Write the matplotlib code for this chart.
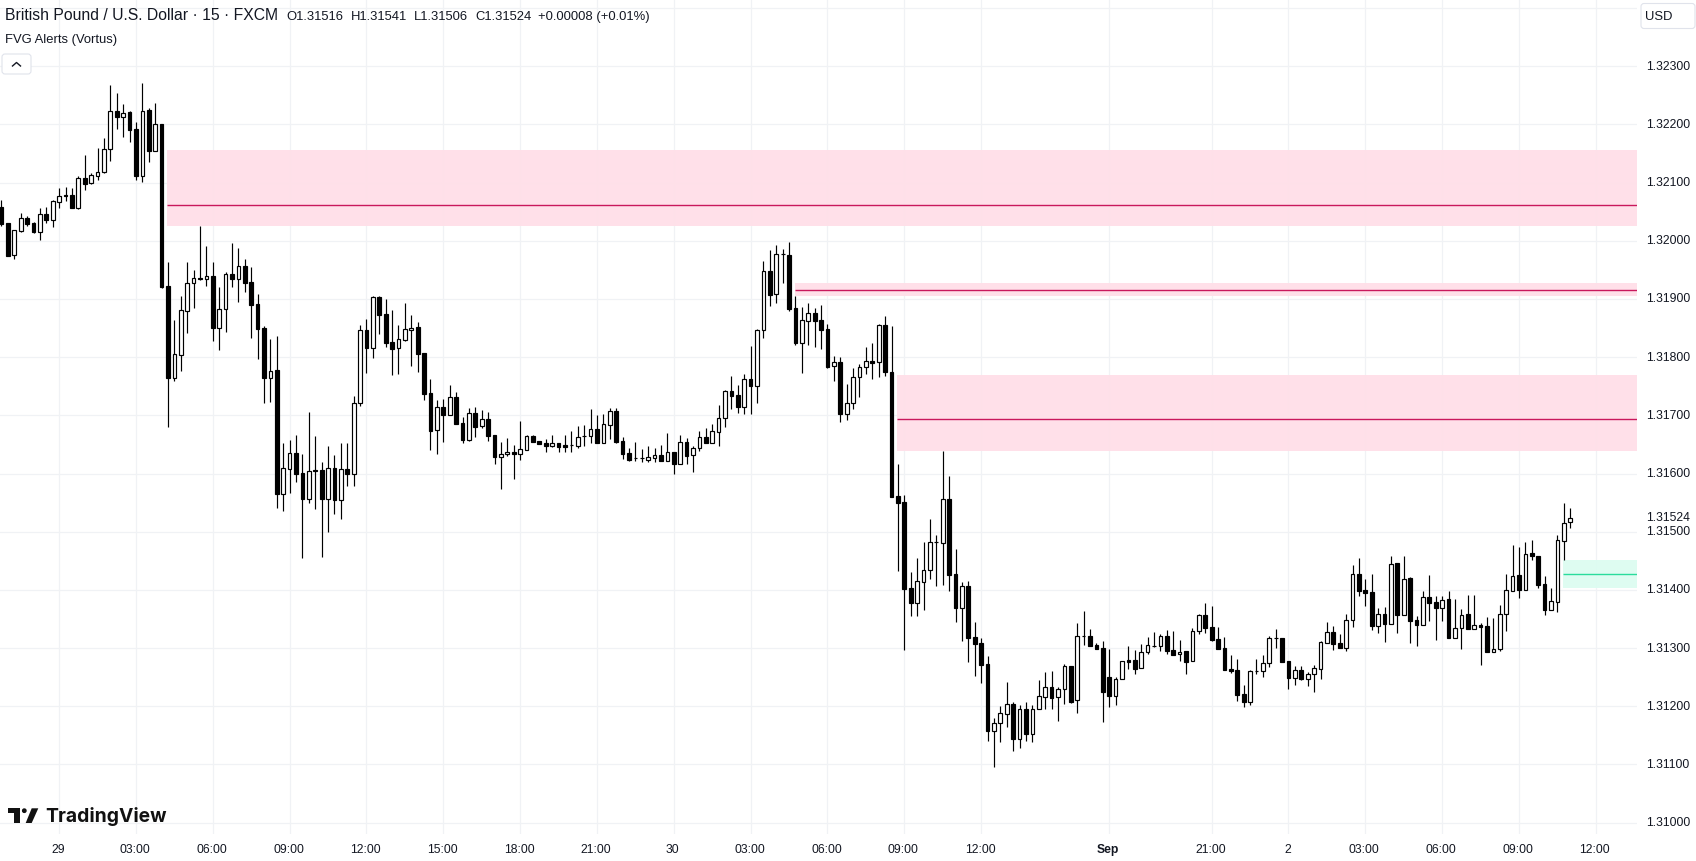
#!/usr/bin/env python
# GBP/USD 15 minute candles with FVG zones, TradingView look

import matplotlib.pyplot as plt
from matplotlib.patches import FancyBboxPatch, Polygon, Circle
from matplotlib.transforms import ScaledTranslation
import numpy as np

plt.rcParams['font.family'] = ['Liberation Sans', 'DejaVu Sans']

# prices are given in 0.00001 above this base
BASE = 1.31

opens = [
    1059, 1031, 975, 1017, 1039, 1030, 1016, 1046, 1035, 1067,
    1078, 1079, 1056, 1108, 1099, 1112, 1118, 1157, 1223, 1213,
    1222, 1192, 1112, 1225, 1155, 1201, 922, 765, 804, 880,
    927, 936, 935, 940, 851, 882, 943, 935, 956, 929,
    891, 850, 765, 778, 564, 608, 636, 601, 557, 606,
    606, 557, 609, 555, 607, 600, 722, 847, 816, 903,
    874, 826, 815, 830, 847, 852, 807, 739, 674, 714,
    701, 732, 687, 658, 704, 681, 694, 666, 629, 633,
    637, 633, 641, 665, 656, 652, 648, 652, 649, 649,
    648, 664, 664, 676, 653, 684, 708, 656, 636, 626,
    626, 624, 627, 632, 622, 637, 617, 654, 631, 643,
    663, 653, 672, 695, 742, 735, 715, 763, 751, 846,
    948, 908, 977, 976, 885, 825, 863, 876, 864, 849,
    784, 792, 703, 721, 766, 783, 794, 792, 856, 774,
    561, 551, 403, 378, 414, 434, 482, 481, 556, 427,
    369, 407, 319, 309, 273, 158, 171, 187, 204, 144,
    195, 153, 196, 216, 233, 215, 229, 269, 210, 320,
    321, 305, 300, 250, 218, 246, 279, 279, 265, 294,
    304, 304, 321, 297, 289, 295, 277, 329, 357, 336,
    316, 300, 264, 262, 221, 208, 261, 261, 275, 317,
    317, 277, 249, 263, 247, 255, 264, 309, 328, 308,
    300, 348, 428, 399, 396, 338, 359, 342, 446, 357,
    420, 348, 340, 387, 379, 369, 384, 317, 335, 358,
    333, 340, 338, 293, 299, 359, 398, 425, 400, 463,
    459, 410, 366, 379, 484, 516,
]
highs = [
    1070, 1031, 1018, 1047, 1042, 1032, 1056, 1058, 1070, 1090,
    1093, 1091, 1111, 1148, 1117, 1160, 1177, 1268, 1254, 1235,
    1223, 1204, 1271, 1229, 1237, 1201, 964, 864, 905, 964,
    949, 1026, 991, 964, 921, 946, 997, 988, 968, 955,
    909, 854, 831, 836, 652, 658, 666, 634, 706, 664,
    620, 647, 632, 652, 652, 733, 855, 866, 905, 905,
    900, 881, 855, 893, 872, 860, 807, 763, 726, 728,
    752, 740, 697, 713, 714, 709, 706, 666, 654, 661,
    649, 690, 666, 666, 656, 660, 666, 652, 666, 673,
    682, 684, 711, 701, 702, 713, 713, 663, 644, 654,
    642, 648, 644, 649, 670, 637, 666, 661, 648, 673,
    678, 685, 718, 743, 768, 752, 771, 819, 849, 966,
    984, 993, 986, 998, 905, 886, 893, 885, 890, 857,
    802, 801, 754, 782, 789, 818, 825, 857, 871, 854,
    616, 563, 431, 455, 482, 522, 494, 639, 596, 470,
    414, 415, 345, 317, 286, 180, 200, 242, 207, 202,
    207, 202, 245, 259, 260, 233, 273, 269, 343, 364,
    333, 309, 312, 298, 250, 277, 304, 297, 307, 319,
    328, 324, 331, 329, 314, 295, 335, 359, 378, 372,
    336, 319, 288, 281, 237, 262, 281, 288, 321, 332,
    318, 277, 269, 269, 259, 271, 312, 344, 338, 324,
    358, 442, 454, 418, 428, 368, 370, 459, 447, 458,
    422, 355, 398, 425, 389, 389, 398, 384, 367, 391,
    391, 343, 353, 351, 374, 427, 477, 473, 482, 485,
    459, 423, 403, 494, 549, 541,
]
lows = [
    1026, 974, 968, 1016, 1025, 1014, 1001, 1030, 1024, 1056,
    1068, 1056, 1055, 1087, 1097, 1105, 1117, 1137, 1192, 1178,
    1170, 1105, 1101, 1135, 1155, 919, 680, 759, 776, 842,
    885, 932, 922, 828, 812, 843, 921, 895, 912, 833,
    797, 721, 723, 541, 536, 566, 585, 455, 549, 539,
    456, 500, 530, 522, 579, 579, 716, 773, 799, 840,
    817, 769, 771, 828, 785, 775, 726, 640, 634, 654,
    700, 685, 653, 656, 663, 678, 656, 616, 573, 630,
    591, 623, 641, 654, 651, 637, 646, 637, 637, 637,
    644, 648, 653, 653, 653, 660, 653, 625, 622, 622,
    620, 620, 620, 622, 622, 599, 617, 617, 603, 639,
    653, 653, 648, 680, 711, 704, 703, 703, 721, 833,
    888, 893, 928, 880, 821, 773, 821, 818, 814, 782,
    759, 689, 692, 711, 731, 771, 763, 766, 768, 559,
    432, 296, 355, 355, 365, 419, 407, 408, 398, 345,
    312, 276, 252, 240, 140, 96, 139, 164, 123, 128,
    140, 139, 196, 195, 195, 175, 204, 206, 188, 305,
    304, 298, 173, 199, 202, 246, 264, 255, 265, 290,
    302, 295, 290, 288, 278, 255, 277, 324, 326, 312,
    298, 262, 257, 209, 199, 202, 255, 250, 267, 300,
    276, 229, 236, 245, 235, 224, 247, 309, 296, 300,
    295, 336, 389, 372, 331, 325, 310, 342, 325, 357,
    308, 303, 340, 346, 313, 346, 317, 317, 298, 332,
    333, 271, 293, 293, 295, 329, 398, 386, 400, 452,
    403, 356, 366, 362, 451, 506,
]
closes = [
    1029, 974, 1018, 1039, 1029, 1015, 1046, 1035, 1068, 1077,
    1077, 1056, 1108, 1098, 1113, 1119, 1157, 1223, 1213, 1220,
    1191, 1112, 1224, 1155, 1200, 921, 764, 805, 881, 927,
    936, 935, 940, 850, 882, 943, 935, 956, 928, 890,
    848, 764, 777, 564, 609, 636, 599, 556, 605, 605,
    556, 609, 555, 607, 599, 722, 846, 816, 903, 872,
    824, 814, 831, 848, 851, 806, 737, 673, 714, 701,
    731, 685, 658, 704, 680, 693, 665, 629, 633, 637,
    633, 642, 665, 654, 651, 648, 652, 646, 646, 649,
    662, 664, 676, 653, 685, 707, 654, 634, 623, 626,
    626, 628, 631, 622, 637, 617, 654, 630, 644, 662,
    653, 673, 695, 742, 733, 715, 762, 751, 846, 948,
    907, 977, 977, 883, 825, 864, 876, 862, 847, 783,
    791, 703, 721, 766, 783, 793, 790, 855, 774, 560,
    550, 402, 378, 415, 434, 482, 482, 556, 426, 369,
    406, 317, 307, 271, 157, 171, 188, 203, 144, 195,
    152, 196, 217, 233, 214, 229, 269, 208, 320, 320,
    304, 298, 225, 218, 246, 277, 276, 264, 294, 305,
    304, 321, 295, 288, 294, 276, 329, 356, 335, 314,
    298, 262, 261, 219, 207, 260, 260, 275, 318, 317,
    276, 248, 263, 247, 255, 265, 310, 328, 307, 300,
    349, 428, 398, 394, 338, 359, 341, 445, 356, 419,
    346, 339, 387, 377, 368, 383, 317, 335, 357, 332,
    340, 336, 293, 299, 359, 399, 424, 399, 462, 458,
    408, 365, 380, 485, 515, 524,
]

# fair value gap zones: first bar, low, high, mid line
zone_starts = [25.85, 123.9, 139.85, 243.9]
zone_lows = [1.32025, 1.31906, 1.31639, 1.31403]
zone_highs = [1.32156, 1.31928, 1.31770, 1.31451]
zone_mids = [1.32061, 1.31915, 1.31693, 1.31428]
zone_fills = ['#ffdfe8', '#ffdfe8', '#ffdfe8', '#dcfcf1']
zone_lines = ['#c9185c', '#c9185c', '#c9185c', '#2bdc9c']

price_ticks = [1.31, 1.311, 1.312, 1.313, 1.314, 1.315, 1.316, 1.317, 1.318,
               1.319, 1.32, 1.321, 1.322, 1.323, 1.324]
time_ticks = [9, 21, 33, 45, 57, 69, 81, 93, 105, 117, 129, 141, 153, 173,
              189, 201, 213, 225, 237, 249]
time_labels = ['29', '03:00', '06:00', '09:00', '12:00', '15:00', '18:00',
               '21:00', '30', '03:00', '06:00', '09:00', '12:00', 'Sep',
               '21:00', '2', '03:00', '06:00', '09:00', '12:00']
last_price = 1.31524

TEXT = '#131722'
GRID = '#f0f2f5'

o = BASE + np.array(opens) / 1e5
h = BASE + np.array(highs) / 1e5
l = BASE + np.array(lows) / 1e5
c = BASE + np.array(closes) / 1e5
x = np.arange(len(o))
up = c >= o

W, H = 1696, 861
fig = plt.figure(figsize=(W / 100, H / 100), dpi=100, facecolor='white')
ax = fig.add_axes([0, (H - 834) / H, 1637 / W, 834 / H])
ax.set_xlim(-0.234, 255.43)
ax.set_ylim(1.309803, 1.32414)

ax.grid(True, which='major', color=GRID, linewidth=0.9)
ax.set_axisbelow(True)
for s in ax.spines.values():
    s.set_visible(False)

for start, lo, hi, mid, fill, line in zip(zone_starts, zone_lows, zone_highs, zone_mids, zone_fills, zone_lines):
    ax.fill_between([start, 255.43], lo, hi, color=fill, alpha=0.94, linewidth=0, zorder=1)
    ax.hlines(mid, start, 255.43, color=line, linewidth=1.0, zorder=1.5)

ax.vlines(x, l, h, color='black', linewidth=0.85, zorder=2)
ax.bar(x[up], (c - o)[up], bottom=o[up], width=0.58, facecolor='white', edgecolor='black', linewidth=0.85, zorder=3)
ax.bar(x[~up], (c - o)[~up], bottom=o[~up], width=0.58, facecolor='black', edgecolor='black', linewidth=0.85, zorder=3)

ax.yaxis.tick_right()
ax.set_yticks(price_ticks)
ax.set_yticklabels(['%.5f' % p if p < 1.3235 else '' for p in price_ticks])
ax.set_yticks([last_price], minor=True)
ax.set_yticklabels(['%.5f' % last_price], minor=True)
ax.tick_params(axis='y', which='both', length=0, pad=6.3, labelsize=8.7, labelcolor=TEXT)

ax.set_xticks(time_ticks)
ax.set_xticklabels(time_labels)
ax.tick_params(axis='x', length=0, pad=7.3, labelsize=8.7, labelcolor=TEXT)
for label in ax.get_xticklabels():
    label.set_transform(label.get_transform() + ScaledTranslation(-1 / 100, 0, fig.dpi_scale_trans))
    if label.get_text() == 'Sep':
        label.set_fontweight('bold')
for label in ax.get_yticklabels() + ax.get_yticklabels(minor=True):
    label.set_transform(label.get_transform() + ScaledTranslation(0, 1 / 100, fig.dpi_scale_trans))

# overlay in pixels for the header, buttons and logo
ov = fig.add_axes([0, 0, 1, 1], facecolor='none')
ov.set_xlim(0, W)
ov.set_ylim(H, 0)
ov.axis('off')

ov.text(5, 15.5, 'British Pound / U.S. Dollar · 15 · FXCM', fontsize=11.3, color=TEXT, va='center')
ov.text(286, 17, 'O1.31516', fontsize=9.4, color=TEXT, va='center')
ov.text(350.7, 17, 'H1.31541', fontsize=9.4, color=TEXT, va='center')
ov.text(414, 17, 'L1.31506', fontsize=9.4, color=TEXT, va='center')
ov.text(475, 17, 'C1.31524', fontsize=9.4, color=TEXT, va='center')
ov.text(538.3, 17, '+0.00008 (+0.01%)', fontsize=9.4, color=TEXT, va='center')
ov.text(5, 40.5, 'FVG Alerts (Vortus)', fontsize=9.4, color=TEXT, va='center')

ov.add_patch(FancyBboxPatch((4, 56), 25, 16, boxstyle='round,pad=2,rounding_size=3',
                            facecolor='white', edgecolor='#e0e3eb', linewidth=0.8))
ov.plot([12.5, 16.5, 20.5], [66, 62.5, 66], color=TEXT, linewidth=1.0)

ov.add_patch(FancyBboxPatch((1643, 5.5), 50, 21, boxstyle='round,pad=2,rounding_size=3',
                            facecolor='white', edgecolor='#e0e3eb', linewidth=0.8))
ov.text(1645, 17, 'USD', fontsize=9.4, color=TEXT, va='center')

ov.add_patch(Polygon([(8, 808.3), (20, 808.3), (20, 823), (14, 823), (14, 813), (8, 813)], facecolor='#111111', edgecolor='none'))
ov.add_patch(Circle((24.3, 810.7), 2.4, facecolor='#111111', edgecolor='none'))
ov.add_patch(Polygon([(31.7, 808.3), (38.3, 808.3), (31.7, 823), (25.7, 823)], facecolor='#111111', edgecolor='none'))
ov.text(45, 816.5, 'TradingView', fontsize=13.9, family=['Inter', 'Liberation Sans'], fontweight='bold', color='#111111', va='center')

fig.savefig('out.png', dpi=100)
